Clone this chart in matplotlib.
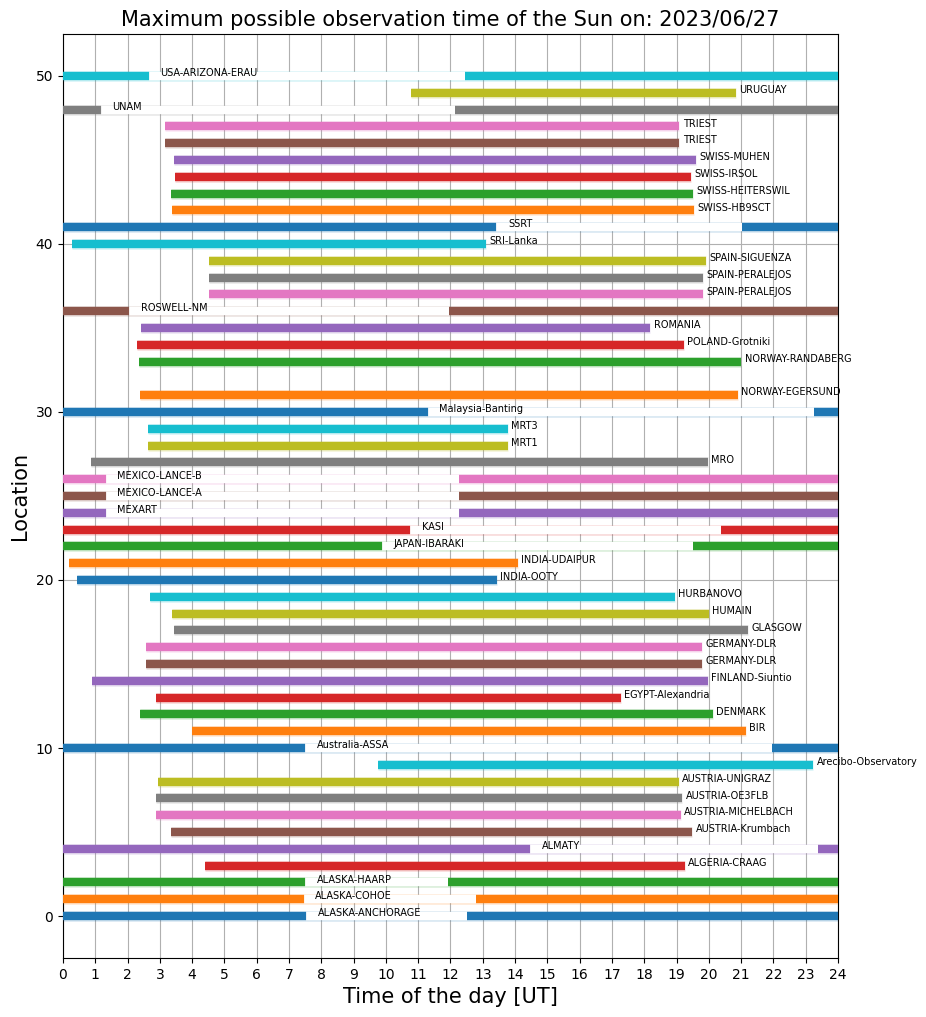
import numpy as np
import matplotlib
matplotlib.use("Agg")
import matplotlib.pyplot as plt
import matplotlib.patheffects as pe

# station names, their row on the y axis, and observation start/end in UT hours
# (start > end means the window wraps past midnight)
stations = ["ALASKA-ANCHORAGE", "ALASKA-COHOE", "ALASKA-HAARP", "ALGERIA-CRAAG",
            "ALMATY", "AUSTRIA-Krumbach", "AUSTRIA-MICHELBACH", "AUSTRIA-OE3FLB",
            "AUSTRIA-UNIGRAZ", "Arecibo-Observatory", "Australia-ASSA", "BIR",
            "DENMARK", "EGYPT-Alexandria", "FINLAND-Siuntio", "GERMANY-DLR",
            "GERMANY-DLR", "GLASGOW", "HUMAIN", "HURBANOVO", "INDIA-OOTY",
            "INDIA-UDAIPUR", "JAPAN-IBARAKI", "KASI", "MEXART", "MEXICO-LANCE-A",
            "MEXICO-LANCE-B", "MRO", "MRT1", "MRT3", "Malaysia-Banting",
            "NORWAY-EGERSUND", "NORWAY-RANDABERG", "POLAND-Grotniki", "ROMANIA",
            "ROSWELL-NM", "SPAIN-PERALEJOS", "SPAIN-PERALEJOS", "SPAIN-SIGUENZA",
            "SRI-Lanka", "SSRT", "SWISS-HB9SCT", "SWISS-HEITERSWIL", "SWISS-IRSOL",
            "SWISS-MUHEN", "TRIEST", "TRIEST", "UNAM", "URUGUAY", "USA-ARIZONA-ERAU"]
rows = [0, 1, 2, 3, 4, 5, 6, 7, 8, 9, 10, 11, 12, 13, 14, 15, 16, 17, 18, 19,
        20, 21, 22, 23, 24, 25, 26, 27, 28, 29, 30, 31, 33, 34, 35, 36, 37, 38,
        39, 40, 41, 42, 43, 44, 45, 46, 47, 48, 49, 50]
start = [12.52, 12.80, 11.93, 4.40, 23.39, 3.34, 2.88, 2.88, 2.94, 9.76, 21.97,
         4.00, 2.38, 2.88, 0.90, 2.57, 2.57, 3.44, 3.38, 2.69, 0.43, 0.19, 19.52,
         20.39, 12.27, 12.27, 12.27, 0.87, 2.63, 2.63, 23.27, 2.38, 2.34, 2.29,
         2.42, 11.95, 4.52, 4.52, 4.52, 0.28, 21.04, 3.38, 3.33, 3.47, 3.43,
         3.16, 3.16, 12.15, 10.78, 12.45]
end = [7.54, 7.45, 7.51, 19.25, 14.46, 19.48, 19.13, 19.17, 19.07, 23.23, 7.49,
       21.14, 20.12, 17.28, 19.97, 19.79, 19.79, 21.21, 20.00, 18.95, 13.44,
       14.08, 9.87, 10.74, 1.32, 1.32, 1.32, 19.97, 13.78, 13.78, 11.29, 20.90,
       21.00, 19.23, 18.18, 2.06, 19.82, 19.82, 19.91, 13.09, 13.42, 19.53,
       19.51, 19.45, 19.60, 19.08, 19.08, 1.17, 20.84, 2.65]

colors = plt.rcParams["axes.prop_cycle"].by_key()["color"]
lw = 6

fig, ax = plt.subplots(figsize=(9.26, 10.17), dpi=100)
fig.subplots_adjust(left=0.068, right=0.905, top=0.9666, bottom=0.058)

for i, (name, y, s, e) in enumerate(zip(stations, rows, start, end)):
    c = colors[i % len(colors)]
    halo = [pe.Stroke(linewidth=lw + 1.6, foreground=c, alpha=0.18), pe.Normal()]
    if s < e:
        ax.plot([s, e], [y, y], color=c, lw=lw, solid_capstyle="butt",
                path_effects=halo, zorder=3)
        ax.annotate(name, xy=(e, y), xytext=(2.5, 2), textcoords="offset points",
                    fontsize=7, va="center", ha="left", zorder=5)
    else:
        # night part in white, then the two daylight pieces
        ax.plot([e, s], [y, y], color="white", lw=lw, solid_capstyle="butt",
                path_effects=[pe.Stroke(linewidth=lw + 1.6, foreground=c, alpha=0.18),
                              pe.Normal()], zorder=2.5)
        ax.plot([0, e], [y, y], color=c, lw=lw, solid_capstyle="butt",
                path_effects=halo, zorder=3)
        ax.plot([s, 24], [y, y], color=c, lw=lw, solid_capstyle="butt",
                path_effects=halo, zorder=3)
        ax.annotate(name, xy=(e, y), xytext=(8.5, 2), textcoords="offset points",
                    fontsize=7, va="center", ha="left", zorder=5)

ax.set_xlim(0, 24)
ax.set_ylim(-2.5, 52.5)
ax.set_xticks(np.arange(0, 25, 1))
ax.set_yticks(np.arange(0, 51, 10))
ax.grid(True, color="#b0b0b0", lw=0.8, zorder=0)
ax.set_axisbelow(True)
ax.set_title("Maximum possible observation time of the Sun on: 2023/06/27", fontsize=15)
ax.set_xlabel("Time of the day [UT]", fontsize=15)
ax.set_ylabel("Location", fontsize=15)

plt.savefig("out.png", dpi=100)
